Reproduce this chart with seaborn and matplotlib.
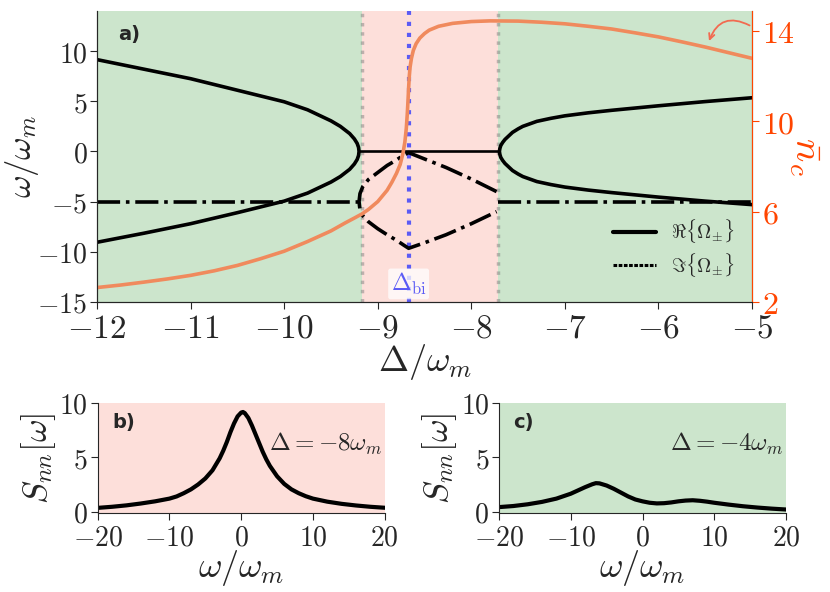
import numpy as np
import pandas as pd
import seaborn as sns
import matplotlib
matplotlib.use("Agg")
import matplotlib.pyplot as plt
from matplotlib.lines import Line2D
from matplotlib.ticker import FuncFormatter

# ---- panel a) data ----
# real part, left branch (upper -> tip -> lower)
re_left_x = [-12.0, -11.5, -11.0, -10.5, -10.0, -9.75, -9.5, -9.4, -9.3, -9.25, -9.22, -9.205, -9.2,
             -9.205, -9.22, -9.25, -9.3, -9.4, -9.5, -9.75, -10.0, -10.5, -11.0, -11.5, -12.0]
re_left_y = [9.15, 8.2, 7.25, 6.1, 4.95, 4.15, 3.05, 2.5, 1.78, 1.25, 0.8, 0.4, 0.0,
             -0.4, -0.8, -1.25, -1.78, -2.5, -3.05, -4.15, -4.95, -6.1, -7.2, -8.15, -9.05]
# real part, right branch
re_right_x = [-5.0, -5.5, -6.0, -6.5, -6.75, -7.0, -7.15, -7.3, -7.45, -7.5, -7.56, -7.6, -7.64,
              -7.665, -7.685, -7.695, -7.70,
              -7.695, -7.685, -7.665, -7.64, -7.6, -7.56, -7.5, -7.45, -7.3, -7.15, -7.0, -6.75,
              -6.5, -6.0, -5.5, -5.0]
re_right_y = [5.35, 4.97, 4.55, 4.1, 3.85, 3.55, 3.3, 3.0, 2.5, 2.25, 1.9, 1.55, 1.2,
              0.9, 0.6, 0.3, 0.0,
              -0.3, -0.6, -0.9, -1.2, -1.55, -1.9, -2.25, -2.5, -3.0, -3.3, -3.55, -3.85,
              -4.1, -4.55, -4.95, -5.3]
# real part, flat (bistable region)
re_flat_x = [-9.2, -7.70]
re_flat_y = [0.0, 0.0]

# imaginary part
im_out_left_x = [-12.0, -9.2]
im_out_left_y = [-5.0, -5.0]
im_out_right_x = [-7.72, -5.0]
im_out_right_y = [-5.0, -5.0]
im_loop_x = [-7.73, -8.0, -8.27, -8.5, -8.67, -8.72, -8.8, -8.9, -9.0, -9.1, -9.16, -9.19, -9.2,
             -9.19, -9.16, -9.1, -9.0, -8.9, -8.8, -8.72, -8.67, -8.5, -8.27, -8.0, -7.73]
im_loop_y = [-4.0, -2.75, -1.6, -0.75, -0.12, -0.35, -0.85, -1.4, -2.1, -2.8, -3.5, -4.2, -5.0,
             -5.8, -6.4, -7.0, -7.7, -8.3, -8.85, -9.35, -9.65, -9.1, -8.3, -7.2, -6.0]

# mean photon number n_c (right axis)
nc_x = [-12.0, -11.75, -11.5, -11.25, -11.0, -10.75, -10.5, -10.25, -10.0, -9.75, -9.5, -9.35,
        -9.25, -9.17, -9.1, -9.0, -8.9, -8.85, -8.8, -8.76, -8.73, -8.71, -8.695, -8.685, -8.677,
        -8.67, -8.663, -8.655, -8.64, -8.62, -8.59, -8.55, -8.5, -8.45, -8.35, -8.2, -8.0, -7.8,
        -7.5, -7.25, -7.0, -6.75, -6.5, -6.25, -6.0, -5.75, -5.5, -5.25, -5.0]
nc_y = [2.64, 2.75, 2.88, 3.02, 3.18, 3.38, 3.62, 3.92, 4.25, 4.68, 5.15, 5.5,
        5.72, 5.9, 6.1, 6.45, 6.95, 7.3, 7.7, 8.1, 8.6, 9.1, 9.7, 10.3, 10.9,
        11.5, 12.0, 12.4, 12.8, 13.15, 13.45, 13.7, 13.9, 14.05, 14.22, 14.35, 14.43, 14.46,
        14.45, 14.4, 14.33, 14.22, 14.1, 13.93, 13.75, 13.53, 13.3, 13.05, 12.8]

delta_lo, delta_hi, delta_bi = -9.17, -7.72, -8.67

# ---- panels b) and c) spectra ----
sb_w = [-20, -18, -16, -14, -12, -10, -9, -8, -7, -6, -5, -4, -3, -2.5, -2, -1.5, -1, -0.5, 0,
        0.25, 0.5, 1, 1.5, 2, 2.5, 3, 3.5, 4, 5, 6, 7, 8, 9, 10, 12, 14, 16, 18, 20]
sb_s = [0.35, 0.45, 0.58, 0.75, 0.95, 1.2, 1.4, 1.7, 2.05, 2.5, 3.05, 3.8, 4.9, 5.6, 6.4, 7.3, 8.1, 8.75, 9.1,
        9.15, 9.05, 8.6, 7.9, 7.1, 6.3, 5.5, 4.8, 4.2, 3.25, 2.55, 2.05, 1.7, 1.42, 1.2, 0.92, 0.72, 0.57,
        0.45, 0.36]
sc_w = [-20, -18, -16, -14, -12, -10, -9, -8, -7, -6.5, -6, -5, -4, -3, -2, -1, 0, 1, 2, 3, 4, 5,
        6, 7, 8, 9, 10, 12, 14, 16, 18, 20]
sc_s = [0.42, 0.52, 0.68, 0.9, 1.2, 1.65, 1.95, 2.25, 2.52, 2.62, 2.6, 2.4, 2.1, 1.75, 1.4, 1.12, 0.95,
        0.82, 0.76, 0.78, 0.85, 0.95, 1.02, 1.05, 1.0, 0.92, 0.82, 0.65, 0.5, 0.38, 0.28, 0.2]

green = "#cce5cc"
pink = "#fddfda"
orange = "#f08a5d"
orange_dark = "#ff4500"
blue = "#5b5bf5"

sns.set_style("ticks")
plt.rcParams["mathtext.fontset"] = "cm"
plt.rcParams["font.family"] = ["DejaVu Sans"]
plt.rcParams["xtick.direction"] = "out"
plt.rcParams["ytick.direction"] = "out"

mfmt = FuncFormatter(lambda v, p: "$%g$" % v)

fig = plt.figure(figsize=(8.3, 5.92), dpi=100)
ax = fig.add_axes([0.1169, 0.4899, 0.7892, 0.4916])
ax.set_facecolor(green)
ax.axvspan(delta_lo, delta_hi, color=pink, lw=0, zorder=0)
for d in (delta_lo, delta_hi):
    ax.axvline(d, color="gray", ls=":", lw=2.5, alpha=0.5, zorder=1)
ax.axvline(delta_bi, color=blue, ls=":", lw=3, zorder=1)

def line(a, xs, ys, **kw):
    sns.lineplot(x=xs, y=ys, ax=a, sort=False, estimator=None, **kw)

line(ax, re_left_x, re_left_y, color="black", lw=2.6)
line(ax, re_right_x, re_right_y, color="black", lw=2.6)
line(ax, re_flat_x, re_flat_y, color="black", lw=1.9)
for xs, ys in ((im_out_left_x, im_out_left_y), (im_out_right_x, im_out_right_y), (im_loop_x, im_loop_y)):
    line(ax, xs, ys, color="black", lw=2.6, linestyle="-.")

ax.set_xlim(-12, -5)
ax.set_ylim(-15, 14)
ax.set_xticks(range(-12, -4))
ax.set_yticks([-15, -10, -5, 0, 5, 10])
ax.xaxis.set_major_formatter(mfmt)
ax.yaxis.set_major_formatter(mfmt)
ax.tick_params(axis="x", labelsize=24, length=5, pad=2)
ax.tick_params(axis="y", labelsize=20, length=5, pad=2)
ax.set_xlabel(r"$\Delta/\omega_m$", fontsize=26, labelpad=-2)
ax.set_ylabel(r"$\omega/\omega_m$", fontsize=25, labelpad=-3)
ax.spines["top"].set_visible(False)
ax.text(0.032, 0.92, "a)", transform=ax.transAxes, fontsize=14, fontweight="bold",
        family="DejaVu Sans", va="center")
ax.text(delta_bi, -13.2, r"$\Delta_{\rm bi}$", color=blue, fontsize=17, ha="center", va="center",
        bbox=dict(boxstyle="round,pad=0.1", fc="white", ec="none", alpha=0.75), zorder=3)

handles = [Line2D([], [], color="black", lw=3),
           Line2D([], [], color="black", lw=2.2, linestyle=(0, (1.2, 0.5)))]
ax.legend(handles, [r"$\Re\{\Omega_{\pm}\}$", r"$\Im\{\Omega_{\pm}\}$"], loc="lower right",
          frameon=False, fontsize=14, handlelength=2.2, labelspacing=0.3,
          bbox_to_anchor=(1.0, 0.02))

ax2 = ax.twinx()
line(ax2, nc_x, nc_y, color=orange, lw=2.6)
ax2.set_ylim(2, 14.9)
ax2.set_yticks([2, 6, 10, 14])
ax2.yaxis.set_major_formatter(mfmt)
ax2.tick_params(axis="y", labelsize=23, colors=orange_dark, length=5, pad=2)
ax2.spines["right"].set_color(orange_dark)
ax2.spines["top"].set_visible(False)
ax2.set_ylabel(r"$\bar{n}_c$", fontsize=28, color=orange_dark, rotation=270, labelpad=22)
ax2.annotate("", xy=(-5.47, 13.45), xytext=(-5.0, 14.2),
             arrowprops=dict(arrowstyle="->", color="#f26a50", lw=1.3,
                             connectionstyle="arc3,rad=0.6"))

for pos, ws, ss, bg, tag, lab in (
        ([0.1177, 0.1329, 0.3458, 0.1868], sb_w, sb_s, pink, "b)", r"$\Delta=-8\omega_m$"),
        ([0.6012, 0.1329, 0.3458, 0.1868], sc_w, sc_s, green, "c)", r"$\Delta=-4\omega_m$")):
    a = fig.add_axes(pos)
    a.set_facecolor(bg)
    line(a, ws, ss, color="black", lw=3)
    a.set_xlim(-20, 20)
    a.set_ylim(-0.15, 10)
    a.set_xticks([-20, -10, 0, 10, 20])
    a.set_yticks([0, 5, 10])
    a.xaxis.set_major_formatter(mfmt)
    a.yaxis.set_major_formatter(mfmt)
    a.tick_params(labelsize=20, length=5, pad=2)
    sns.despine(ax=a)
    a.set_xlabel(r"$\omega/\omega_m$", fontsize=26, labelpad=-2)
    a.set_ylabel(r"$S_{nn}[\omega]$", fontsize=25, labelpad=1)
    a.text(0.05, 0.82, tag, transform=a.transAxes, fontsize=14, fontweight="bold",
           family="DejaVu Sans", va="center")
    a.text(19.6, 6.2, lab, fontsize=18, ha="right", va="center")

fig.savefig("out.png", dpi=100)
